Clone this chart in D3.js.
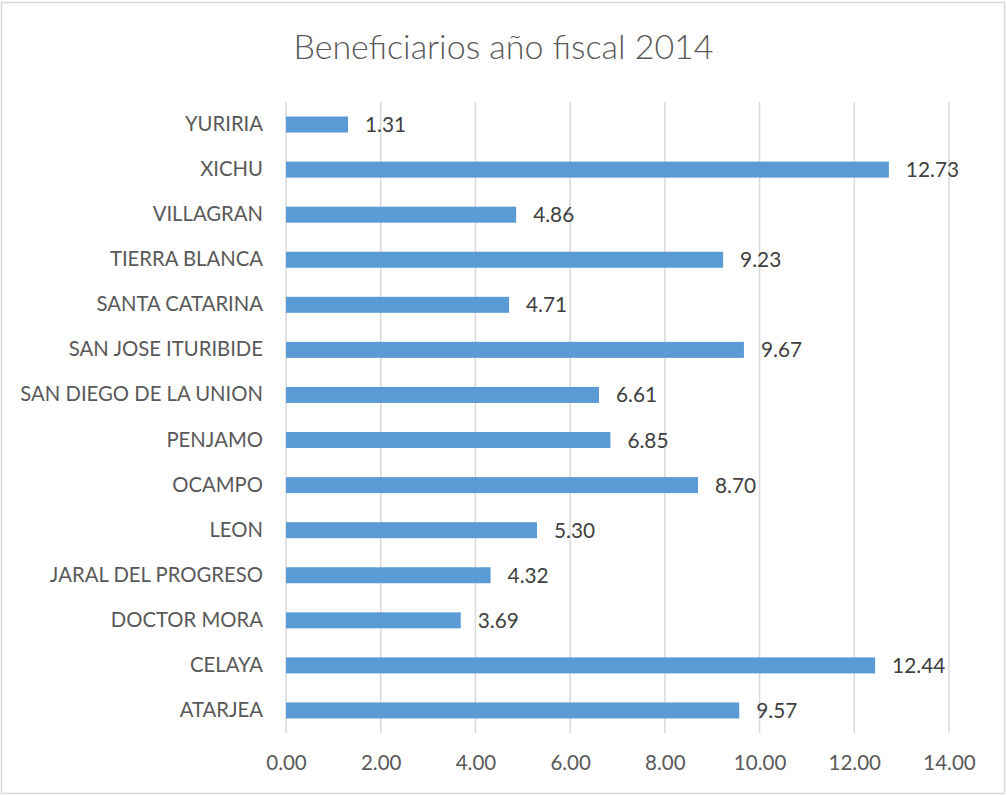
<!DOCTYPE html>
<html>
<head>
<meta charset="utf-8">
<script src="https://cdn.jsdelivr.net/npm/d3@7"></script>
<style>
  body { margin: 0; background: #fff; }
  svg { display: block; }
</style>
</head>
<body>
<div id="chart"></div>
<script>
// datos (de abajo hacia arriba)
const municipios = ['ATARJEA', 'CELAYA', 'DOCTOR MORA', 'JARAL DEL PROGRESO', 'LEON', 'OCAMPO',
  'PENJAMO', 'SAN DIEGO DE LA UNION', 'SAN JOSE ITURIBIDE', 'SANTA CATARINA', 'TIERRA BLANCA',
  'VILLAGRAN', 'XICHU', 'YURIRIA']
const beneficiarios = [9.57, 12.44, 3.69, 4.32, 5.30, 8.70, 6.85, 6.61, 9.67, 4.71, 9.23, 4.86, 12.73, 1.31]
const xTicks = [0, 2, 4, 6, 8, 10, 12, 14]
const titulo = 'Beneficiarios año fiscal 2014'

const W = 1007
const H = 796
const margin = { top: 102, right: 58, bottom: 63, left: 286 }
const width = W - margin.left - margin.right
const height = H - margin.top - margin.bottom
const fuente = 'Lato, "Open Sans", sans-serif'

const svg = d3.select('#chart')
  .append('svg')
  .attr('width', W)
  .attr('height', H)

// marco exterior
svg.append('rect')
  .attr('x', 1.5).attr('y', 2.5)
  .attr('width', W - 4).attr('height', H - 5)
  .attr('fill', '#fff')
  .attr('stroke', '#d9d9d9')
  .attr('stroke-width', 1.5)

const g = svg.append('g')
  .attr('transform', `translate(${margin.left},${margin.top})`)

const x = d3.scaleLinear().domain([0, 14]).range([0, width])
const y = d3.scaleBand()
  .domain(municipios.slice().reverse())
  .range([0, height])
  .paddingInner(0.645)
  .paddingOuter(0.3225)

// líneas de cuadrícula
g.append('g')
  .selectAll('line')
  .data(xTicks)
  .join('line')
  .attr('x1', d => x(d)).attr('x2', d => x(d))
  .attr('y1', 0).attr('y2', height)
  .attr('stroke', '#d9d9d9')
  .attr('stroke-width', 1.5)

// barras
g.selectAll('rect.bar')
  .data(municipios)
  .join('rect')
  .attr('class', 'bar')
  .attr('x', 0)
  .attr('y', d => y(d))
  .attr('width', (d, i) => x(beneficiarios[i]))
  .attr('height', y.bandwidth())
  .attr('fill', '#5b9bd5')

// etiquetas de valor
g.selectAll('text.val')
  .data(municipios)
  .join('text')
  .attr('class', 'val')
  .attr('x', (d, i) => x(beneficiarios[i]) + 17)
  .attr('y', d => y(d) + y.bandwidth() / 2)
  .attr('dy', '0.36em')
  .style('font-family', fuente)
  .style('font-size', '20.8px')
  .attr('fill', '#404040')
  .text((d, i) => beneficiarios[i].toFixed(2))

// eje Y (categorías)
const yAxis = g.append('g')
  .call(d3.axisLeft(y).tickSize(0).tickPadding(23))
yAxis.select('.domain').remove()
yAxis.selectAll('text')
  .style('font-family', fuente)
  .style('font-size', '20.3px')
  .attr('fill', '#595959')

// eje X
const xAxis = g.append('g')
  .attr('transform', `translate(0,${height})`)
  .call(d3.axisBottom(x).tickValues(xTicks).tickFormat(d3.format('.2f')).tickSize(0).tickPadding(22))
xAxis.select('.domain').remove()
xAxis.selectAll('text')
  .style('font-family', fuente)
  .style('font-size', '20.5px')
  .attr('fill', '#595959')

// título
svg.append('text')
  .attr('x', W / 2)
  .attr('y', 59)
  .attr('text-anchor', 'middle')
  .style('font-family', fuente)
  .style('font-size', '34px')
  .style('font-weight', 300)
  .attr('fill', '#595959')
  .text(titulo)
</script>
</body>
</html>
